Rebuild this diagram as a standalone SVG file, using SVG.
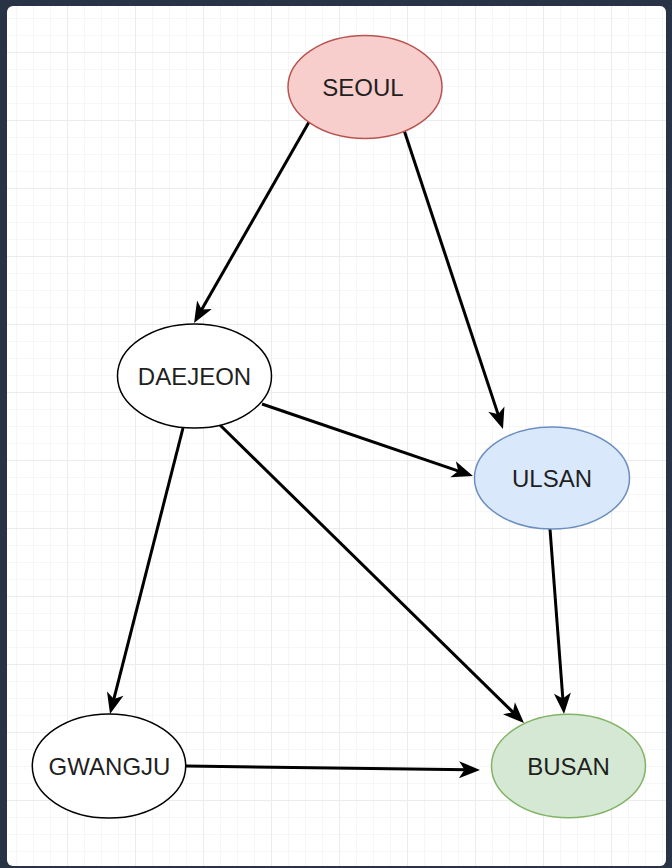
<svg xmlns="http://www.w3.org/2000/svg" width="672" height="868" viewBox="0 0 672 868">
<style>
.node text{font-family:"Liberation Sans",Arial,Helvetica,sans-serif;font-size:24px;fill:#1f1f1f;text-anchor:middle}
.node ellipse{stroke-width:1.5}
.edges line{stroke:#000;stroke-width:3;fill:none;marker-end:url(#arrow)}
</style>
<defs>
<pattern id="grid" patternUnits="userSpaceOnUse" x="-1" y="-16" width="68" height="68">
<g stroke="#f6f6f6" stroke-width="1">
<line x1="17.5" y1="0" x2="17.5" y2="68"/>
<line x1="34.5" y1="0" x2="34.5" y2="68"/>
<line x1="51.5" y1="0" x2="51.5" y2="68"/>
<line x1="0" y1="17.5" x2="68" y2="17.5"/>
<line x1="0" y1="34.5" x2="68" y2="34.5"/>
<line x1="0" y1="51.5" x2="68" y2="51.5"/>
</g>
<g stroke="#ececec" stroke-width="1">
<line x1="0.5" y1="0" x2="0.5" y2="68"/>
<line x1="0" y1="0.5" x2="68" y2="0.5"/>
</g>
</pattern>
<marker id="arrow" markerUnits="userSpaceOnUse" viewBox="-22 -10 23 20" markerWidth="23" markerHeight="20" refX="-12" refY="0" orient="auto">
<path d="M0,0 L-21,-8.5 L-15.5,0 L-21,8.5 Z" fill="#000"/>
</marker>
</defs>
<rect x="0" y="0" width="672" height="868" fill="#283445"/>
<rect x="7" y="6" width="659" height="860" rx="6" fill="#ffffff"/>
<rect x="7" y="6" width="659" height="860" rx="6" fill="url(#grid)"/>
<g class="edges" id="edges">
<line x1="309" y1="122" x2="200" y2="312.6"/>
<line x1="404" y1="130" x2="499.2" y2="417.6"/>
<line x1="262" y1="404" x2="461.6" y2="472.1"/>
<line x1="183" y1="428" x2="113" y2="702.4"/>
<line x1="220" y1="425" x2="515.4" y2="714.6"/>
<line x1="550" y1="529" x2="563.1" y2="702"/>
<line x1="186" y1="766" x2="468" y2="769.8"/>
</g>
<g class="node" id="seoul">
<ellipse cx="365" cy="87" rx="77" ry="51.5" fill="#f8cecc" stroke="#b85450"/>
<text x="363" y="95.5">SEOUL</text>
</g>
<g class="node" id="daejeon">
<ellipse cx="194.5" cy="376" rx="77" ry="52" fill="#ffffff" stroke="#000000"/>
<text x="194.5" y="384.5">DAEJEON</text>
</g>
<g class="node" id="ulsan">
<ellipse cx="552" cy="478" rx="77.5" ry="51" fill="#dae8fc" stroke="#6c8ebf"/>
<text x="552" y="486.5">ULSAN</text>
</g>
<g class="node" id="gwangju">
<ellipse cx="109" cy="766" rx="76.7" ry="52" fill="#ffffff" stroke="#000000"/>
<text x="109.5" y="774.5">GWANGJU</text>
</g>
<g class="node" id="busan">
<ellipse cx="568.5" cy="766" rx="77" ry="51.7" fill="#d5e8d4" stroke="#82b366"/>
<text x="568.5" y="774.5">BUSAN</text>
</g>
</svg>
